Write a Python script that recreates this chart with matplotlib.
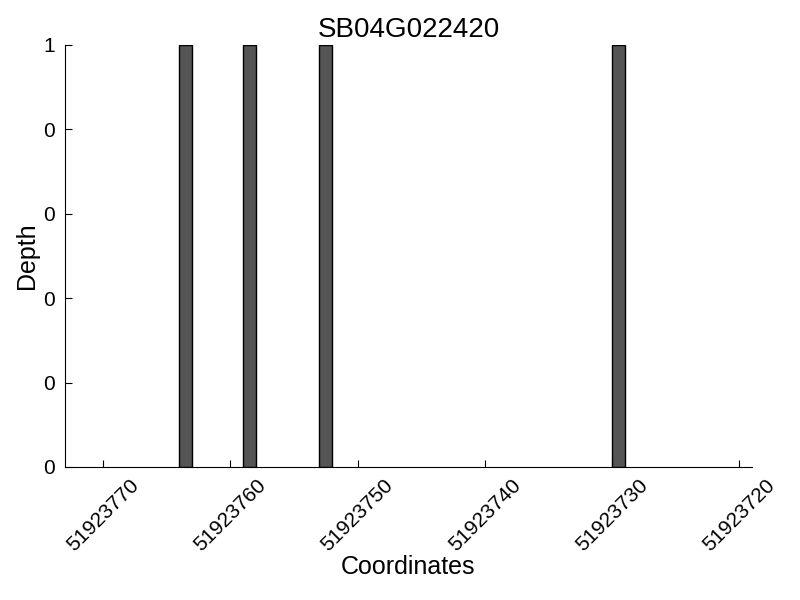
import matplotlib
matplotlib.use("Agg")
import matplotlib.pyplot as plt
from matplotlib.ticker import FormatStrFormatter

plt.rcParams["font.family"] = ["Liberation Sans", "DejaVu Sans"]

# coverage per position (bar left edge in coordinates, depth)
positions = [51923763, 51923758, 51923752, 51923729]
depth = [1, 1, 1, 1]
xticks = [51923770, 51923760, 51923750, 51923740, 51923730, 51923720]

fig = plt.figure(figsize=(8, 6), dpi=100)
ax = fig.add_axes([65 / 800, 1 - 467 / 600, (752 - 65) / 800, (467 - 45) / 600])

ax.bar(positions, depth, width=1, align="edge", color="#555555", edgecolor="black", linewidth=1)

ax.set_xlim(51923773, 51923719)
ax.set_ylim(0, 1)
ax.set_xticks(xticks)
ax.set_xticklabels([str(t) for t in xticks], rotation=45, fontsize=15)
ax.set_yticks([0, 0.2, 0.4, 0.6, 0.8, 1.0])
ax.yaxis.set_major_formatter(FormatStrFormatter("%d"))
ax.tick_params(axis="y", labelsize=15, pad=7)
ax.tick_params(axis="x", pad=6)
ax.tick_params(direction="in", length=5, top=False, right=False)
ax.spines["top"].set_visible(False)
ax.spines["right"].set_visible(False)

ax.set_title("SB04G022420", fontsize=20, pad=6)
ax.set_xlabel("Coordinates", fontsize=18, labelpad=0)
ax.set_ylabel("Depth", fontsize=18, labelpad=3)

fig.savefig("out.png", dpi=100)
